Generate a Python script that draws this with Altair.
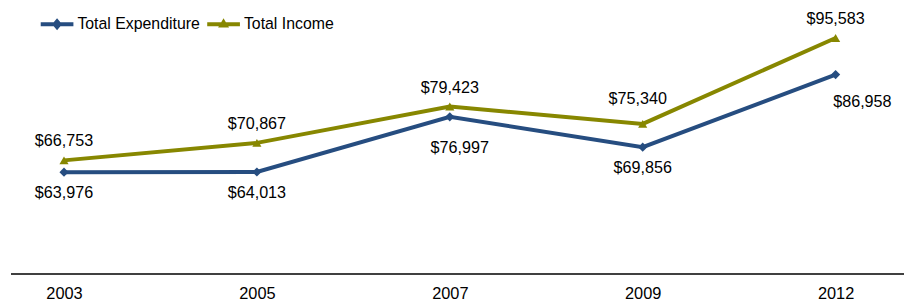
import altair as alt
import pandas as pd

years = ["2003", "2005", "2007", "2009", "2012"]
expenditure = [63976, 64013, 76997, 69856, 86958]
income = [66753, 70867, 79423, 75340, 95583]
series_names = ["Total Expenditure", "Total Income"]
colors = ["#264D80", "#878700"]
marker_shapes = ["diamond", "triangle-up"]

rows = []
for yr, e, i in zip(years, expenditure, income):
    rows.append({"year": yr, "series": series_names[0], "value": e})
    rows.append({"year": yr, "series": series_names[1], "value": i})
df = pd.DataFrame(rows)

FONT = "Liberation Sans"

# legend glyphs (stroked): a short line with the series marker on it
LEGEND_GLYPHS = [
    "M-1,0L1,0M-0.15,0L0,-0.18L0.15,0L0,0.18Z",
    "M-1,0L1,0M0,-0.12L0.12,0.08L-0.12,0.08Z",
]
LEGEND_X = [31, 199]

x = alt.X(
    "year:N",
    sort=years,
    scale=alt.Scale(type="point", range=[56.5, 835], padding=0),
    axis=alt.Axis(title=None, domain=False, ticks=False, grid=False,
                  labelAngle=0, labelFont=FONT, labelFontSize=16.5,
                  labelColor="#000000", labelPadding=12),
)
y = alt.Y("value:Q", scale=alt.Scale(domain=[40000, 100000], nice=False, zero=False),
          axis=None)

base = alt.Chart(df)

line_layers = []
for name, col, glyph, lx in zip(series_names, colors, LEGEND_GLYPHS, LEGEND_X):
    leg = alt.Legend(
        title=None, orient="none", legendX=lx, legendY=-13.5, direction="horizontal",
        symbolType=glyph, symbolSize=1089, symbolStrokeWidth=4, symbolOpacity=1,
        symbolStrokeColor=col,
        labelFontSize=16, labelFont=FONT, labelColor="#000000", labelOffset=2, padding=0,
    )
    line_layers.append(
        base.mark_line(strokeWidth=4).encode(
            x=x, y=y,
            color=alt.Color("series:N", scale=alt.Scale(domain=[name], range=[col]), legend=leg),
        ).transform_filter(f"datum.series === '{name}'")
    )

point_layers = [
    base.mark_point(filled=True, size=85, opacity=1, shape=shp, color=col).encode(x=x, y=y)
    .transform_filter(f"datum.series === '{name}'")
    for name, col, shp in zip(series_names, colors, marker_shapes)
]


def labels(expr, dx, dy):
    return base.mark_text(font=FONT, fontSize=16.3, color="#000000", baseline="middle",
                          align="center", dx=dx, dy=dy).encode(
        x=x, y=y, text=alt.Text("value:Q", format="$,.0f")
    ).transform_filter(expr)


inc = f"datum.series === '{series_names[1]}'"
exp = f"datum.series === '{series_names[0]}'"

text_layers = [
    labels(f"{inc} && datum.year !== '2009'", 0, -19),
    labels(f"{inc} && datum.year === '2009'", -5, -25),
    labels(f"{exp} && (datum.year === '2003' || datum.year === '2005' || datum.year === '2009')", 0, 21),
    labels(f"{exp} && datum.year === '2007'", 10, 31),
    labels(f"{exp} && datum.year === '2012'", 27, 28),
]

baseline = alt.Chart(pd.DataFrame({"a": [0]})).mark_rule(color="#000000", strokeWidth=1.5).encode(
    x=alt.value(3), x2=alt.value(904), y=alt.value(257)
)

chart = alt.layer(baseline, *line_layers, *point_layers, *text_layers).resolve_scale(
    color="independent"
).resolve_legend(color="independent").properties(
    width=904, height=257,
    autosize=alt.AutoSizeParams(type="none"),
    padding={"left": 0, "top": 10, "right": 0, "bottom": 28},
    background="#ffffff",
).configure_view(stroke=None)

chart.save("out.html", embed_options={"renderer": "svg", "actions": False})
